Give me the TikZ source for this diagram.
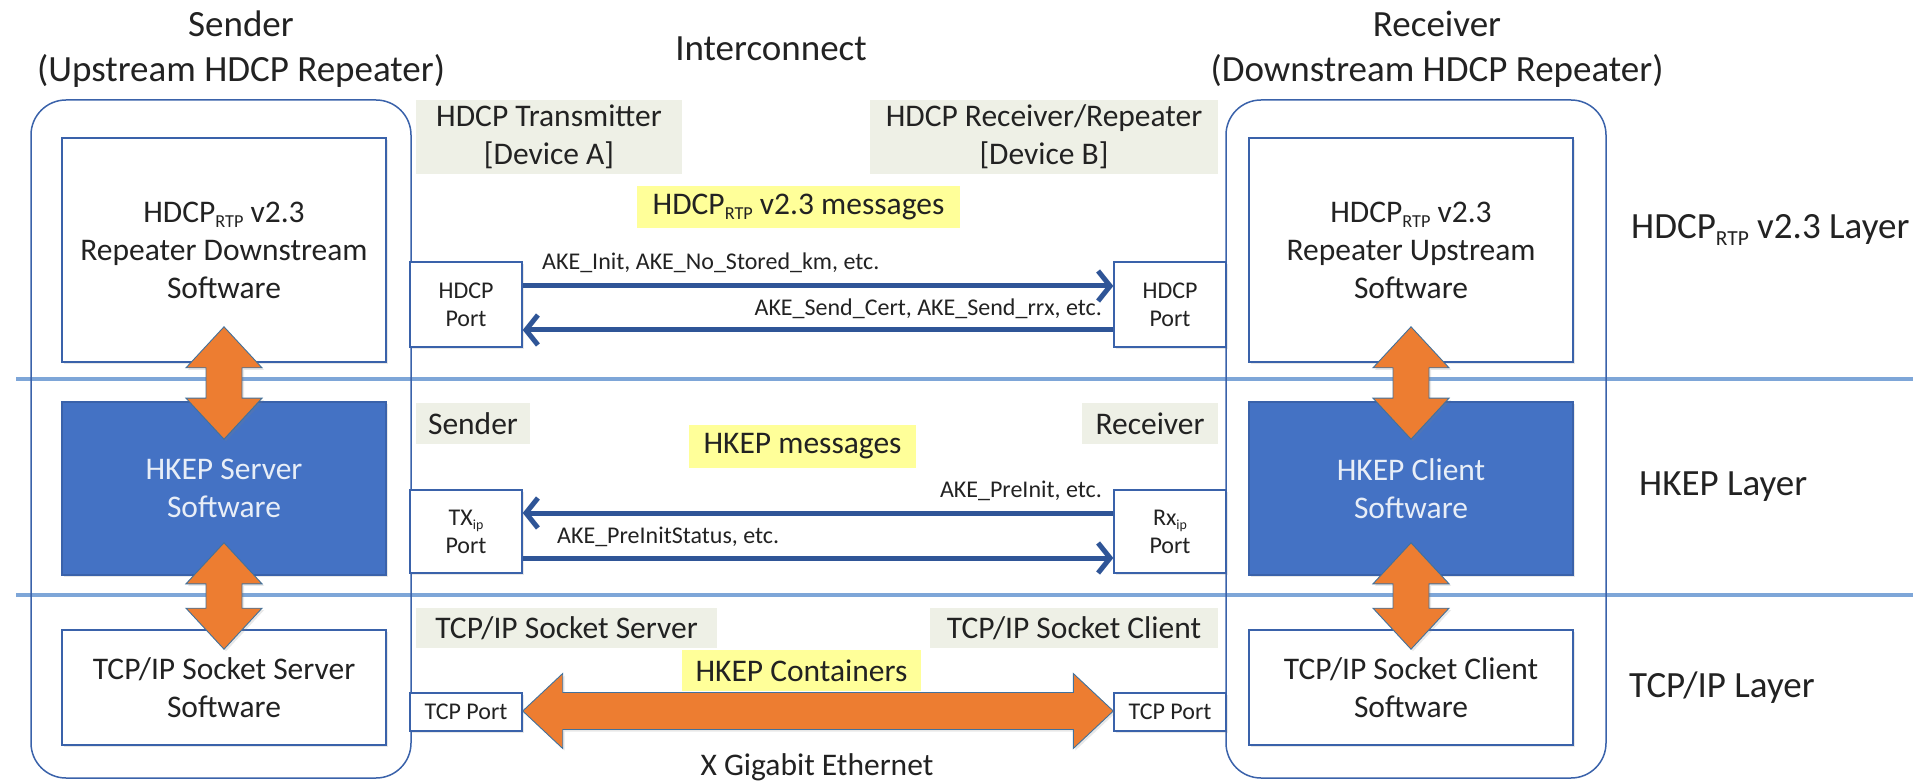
\documentclass[tikz,border=0pt]{standalone}
\usepackage{fontspec}
\setmainfont{Carlito}
\usetikzlibrary{arrows.meta,calc,shadows}
\definecolor{boxblue}{HTML}{3A62AA}
\definecolor{fillblue}{HTML}{4472C4}
\definecolor{arrblue}{HTML}{2F5597}
\definecolor{layerblue}{HTML}{7EA6D8}
\definecolor{labelgrey}{HTML}{EEF0E6}
\definecolor{hiyellow}{HTML}{FFFF99}
\definecolor{orfill}{HTML}{ED7D31}
\definecolor{ordraw}{HTML}{41719C}
\definecolor{txt}{HTML}{222222}
\definecolor{lighttxt}{HTML}{E8EEF7}
\newcommand\lowsub[1]{\raisebox{-0.17em}{\scalebox{0.58}{#1}}}
\newcommand\VDArrow[2]{%
  \draw[orarrow] let \p1=(#1), \p2=(#2) in
    (\p1) -- (\x1+38,\y1-41) -- (\x1+18,\y1-41) -- (\x1+18,\y2+41) -- (\x1+38,\y2+41)
    -- (\x1,\y2) -- (\x1-38,\y2+41) -- (\x1-18,\y2+41) -- (\x1-18,\y1-41) -- (\x1-38,\y1-41) -- cycle;}
\begin{document}
\begin{tikzpicture}[x=1pt,y=1pt,
  font=\fontsize{31.5}{38}\selectfont, text=txt,
  fbig/.style={font=\fontsize{37}{45}\selectfont},
  fsmall/.style={font=\fontsize{24}{28}\selectfont},
  sh/.style={drop shadow={opacity=0.18, shadow xshift=2pt, shadow yshift=-2pt}},
  container/.style={draw=boxblue, line width=1.5pt, rounded corners=35pt, inner sep=0pt, minimum width=380pt, minimum height=678pt},
  swbox/.style={draw=boxblue, line width=1.6pt, fill=white, minimum width=324pt, align=center, inner sep=0pt, sh},
  bluebox/.style={swbox, fill=fillblue, text=lighttxt},
  port/.style={draw=boxblue, line width=1.4pt, fill=white, fsmall, align=center, inner sep=0pt, minimum width=112pt, sh},
  tag/.style={fill=labelgrey, align=center, inner sep=0pt},
  hl/.style={fill=hiyellow, inner sep=0pt},
  msglabel/.style={fsmall, inner sep=0pt},
  plain/.style={inner sep=0pt, align=center},
  msgarrow/.style={draw=arrblue, line width=5pt, -{Straight Barb[length=12pt, width=30pt]}},
  orarrow/.style={fill=orfill, draw=ordraw, line width=0.9pt, line join=miter, sh},
  layerline/.style={draw=layerblue, line width=3.5pt}
]
\useasboundingbox (0,0) rectangle (1913,780);

% layer separators
\coordinate (l1a) at (16,401);
\coordinate (l1b) at (1913,401);
\coordinate (l2a) at (16,185);
\coordinate (l2b) at (1913,185);
\draw[layerline] (l1a) -- (l1b);
\draw[layerline] (l2a) -- (l2b);

% titles
\node[fbig, plain] (sendT) at (241,730.5) {Sender\\(Upstream HDCP Repeater)};
\node[fbig, plain] (recvT) at (1437,730.5) {Receiver\\(Downstream HDCP Repeater)};
\node[fbig, plain] (interT) at (771,731) {Interconnect};

% containers
\node[container] (contL) at (221,341) {};
\node[container] (contR) at (1416,341) {};

% software boxes
\node[swbox, minimum height=224pt] (hdcpL) at (224,530) {HDCP\lowsub{RTP} v2.3\\Repeater Downstream\\Software};
\node[bluebox, minimum height=173pt] (hkepL) at (224,291.5) {HKEP Server\\Software};
\node[swbox, minimum height=115pt] (tcpL) at (224,92.5) {TCP/IP Socket Server\\Software};

\node[swbox, minimum height=224pt] (hdcpR) at (1411,530) {HDCP\lowsub{RTP} v2.3\\Repeater Upstream\\Software};
\node[bluebox, minimum height=173pt] (hkepR) at (1411,291.5) {HKEP Client\\Software};
\node[swbox, minimum height=115pt] (tcpR) at (1411,92.5) {TCP/IP Socket Client\\Software};

% ports
\node[port, minimum height=85pt] (hdcpPL) at (466,475.5) {HDCP\\Port};
\node[port, minimum height=83pt] (ipPL) at (466,248.5) {TX\lowsub{ip}\\Port};
\node[port, minimum height=38pt] (tcpPL) at (466,68) {TCP Port};
\node[port, minimum height=85pt] (hdcpPR) at (1170,475.5) {HDCP\\Port};
\node[port, minimum height=83pt] (ipPR) at (1170,248.5) {Rx\lowsub{ip}\\Port};
\node[port, minimum height=38pt] (tcpPR) at (1170,68) {TCP Port};

% grey tags
\node[tag, minimum width=266pt, minimum height=74pt] (devA) at (549,643) {HDCP Transmitter\\{[}Device A]};
\node[tag, minimum width=348pt, minimum height=74pt] (devB) at (1044,643) {HDCP Receiver/Repeater\\{[}Device B]};
\node[tag, minimum width=114pt, minimum height=41pt] (sndTag) at (473,356.5) {Sender};
\node[tag, minimum width=136pt, minimum height=41pt] (rcvTag) at (1150,356.5) {Receiver};
\node[tag, minimum width=301pt, minimum height=40pt] (sockS) at (566.5,152) {TCP/IP Socket Server};
\node[tag, minimum width=288pt, minimum height=40pt] (sockC) at (1074,152) {TCP/IP Socket Client};

% yellow highlights
\node[hl, minimum width=323pt, minimum height=42pt] (msg1) at (798.5,573) {HDCP\lowsub{RTP} v2.3 messages};
\node[hl, minimum width=227pt, minimum height=43pt] (msg2) at (802.5,333.5) {HKEP messages};
\node[hl, minimum width=239pt, minimum height=41pt] (msg3) at (801.5,109.5) {HKEP Containers};

% layer labels
\node[fbig, plain, anchor=west] (lay1) at (1631,550) {HDCP\lowsub{RTP} v2.3 Layer};
\node[fbig, plain, anchor=west] (lay2) at (1639,293) {HKEP Layer};
\node[fbig, plain, anchor=west] (lay3) at (1629,92) {TCP/IP Layer};

\node[plain] (ether) at (817,13) {X Gigabit Ethernet};

% message arrows
\draw[msgarrow] ($(hdcpPL.east)+(0,18.5)$) -- ($(hdcpPR.west)+(0,18.5)$);
\draw[msgarrow] ($(hdcpPR.west)+(0,-25.5)$) -- ($(hdcpPL.east)+(0,-25.5)$);
\draw[msgarrow] ($(ipPR.west)+(0,18.5)$) -- ($(ipPL.east)+(0,18.5)$);
\draw[msgarrow] ($(ipPL.east)+(0,-26.5)$) -- ($(ipPR.west)+(0,-26.5)$);

\node[msglabel, anchor=west] (m1) at (542,517) {AKE\_Init, AKE\_No\_Stored\_km, etc.};
\node[msglabel, anchor=east] (m2) at (1102,471) {AKE\_Send\_Cert, AKE\_Send\_rrx, etc.};
\node[msglabel, anchor=east] (m3) at (1102,289) {AKE\_PreInit, etc.};
\node[msglabel, anchor=west] (m4) at (557,243) {AKE\_PreInitStatus, etc.};

% orange vertical double arrows
\coordinate (vA1) at ($(hdcpL.south)+(0,36)$);
\coordinate (vA2) at ($(hkepL.north)+(0,-38)$);
\coordinate (vB1) at ($(hkepL.south)+(0,33)$);
\coordinate (vB2) at ($(tcpL.north)+(0,-20)$);
\coordinate (vC1) at ($(hdcpR.south)+(0,36)$);
\coordinate (vC2) at ($(hkepR.north)+(0,-38)$);
\coordinate (vD1) at ($(hkepR.south)+(0,33)$);
\coordinate (vD2) at ($(tcpR.north)+(0,-20)$);
\VDArrow{vA1}{vA2}
\VDArrow{vB1}{vB2}
\VDArrow{vC1}{vC2}
\VDArrow{vD1}{vD2}

% big horizontal double arrow
\draw[orarrow] let \p1=(tcpPL.east), \p2=(tcpPR.west) in
  (\x1,\y1+1) -- (\x1+40,\y1+38.5) -- (\x1+40,\y1+19.5) -- (\x2-40,\y1+19.5) -- (\x2-40,\y1+38.5)
  -- (\x2,\y1+1) -- (\x2-40,\y1-36.5) -- (\x2-40,\y1-17.5) -- (\x1+40,\y1-17.5) -- (\x1+40,\y1-36.5) -- cycle;
\end{tikzpicture}
\end{document}
